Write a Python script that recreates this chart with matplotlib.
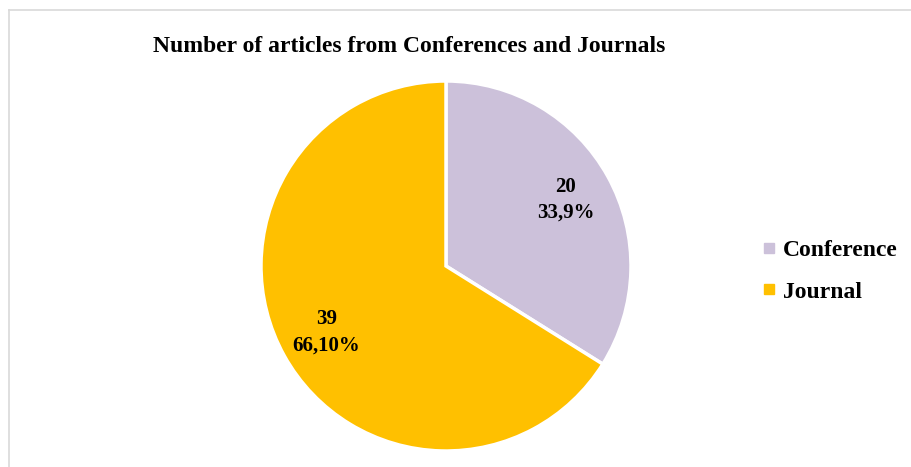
import numpy as np
import matplotlib.pyplot as plt
from matplotlib.lines import Line2D

# data
labels = ['Conference', 'Journal']
counts = [20, 39]
pct_text = ['33,9%', '66,10%']
colors = ['#CCC1DA', '#FFC000']

plt.rcParams['font.family'] = ['Liberation Serif', 'DejaVu Serif']

fig = plt.figure(figsize=(9.11, 4.67), dpi=100)

# light frame (left and top edges visible)
fig.add_artist(plt.Line2D([9 / 911, 9 / 911], [0, 1 - 10 / 467], color='#D9D9D9', lw=1.2))
fig.add_artist(plt.Line2D([9 / 911, 1], [1 - 10 / 467, 1 - 10 / 467], color='#D9D9D9', lw=1.2))

ax = fig.add_axes([261 / 911, 16 / 467, 370 / 911, 370 / 467])

wedges, texts = ax.pie(counts, colors=colors, startangle=90, counterclock=False,
                       wedgeprops=dict(edgecolor='white', linewidth=2.5),
                       radius=1)[:2]
for i, w in enumerate(wedges):
    ang = np.deg2rad((w.theta1 + w.theta2) / 2)
    ax.text(0.74 * np.cos(ang), 0.74 * np.sin(ang), f'{counts[i]}\n{pct_text[i]}',
            ha='center', va='center', fontsize=15, fontweight='bold', linespacing=1.4)
ax.set_xlim(-1, 1)
ax.set_ylim(-1, 1)
ax.set_aspect('equal')

fig.text(409 / 911, 1 - 46 / 467, 'Number of articles from Conferences and Journals',
         ha='center', va='center', fontsize=17, fontweight='bold')

handles = [Line2D([], [], marker='s', linestyle='', markersize=6.5, color=c) for c in colors]
fig.legend(handles, labels, loc='center left', bbox_to_anchor=(757 / 911, 1 - 271 / 467),
           frameon=False, prop=dict(size=17, weight='bold'), handletextpad=0.1,
           labelspacing=0.85, handlelength=1.0, borderpad=0, borderaxespad=0)

fig.savefig('out.png', dpi=100)
